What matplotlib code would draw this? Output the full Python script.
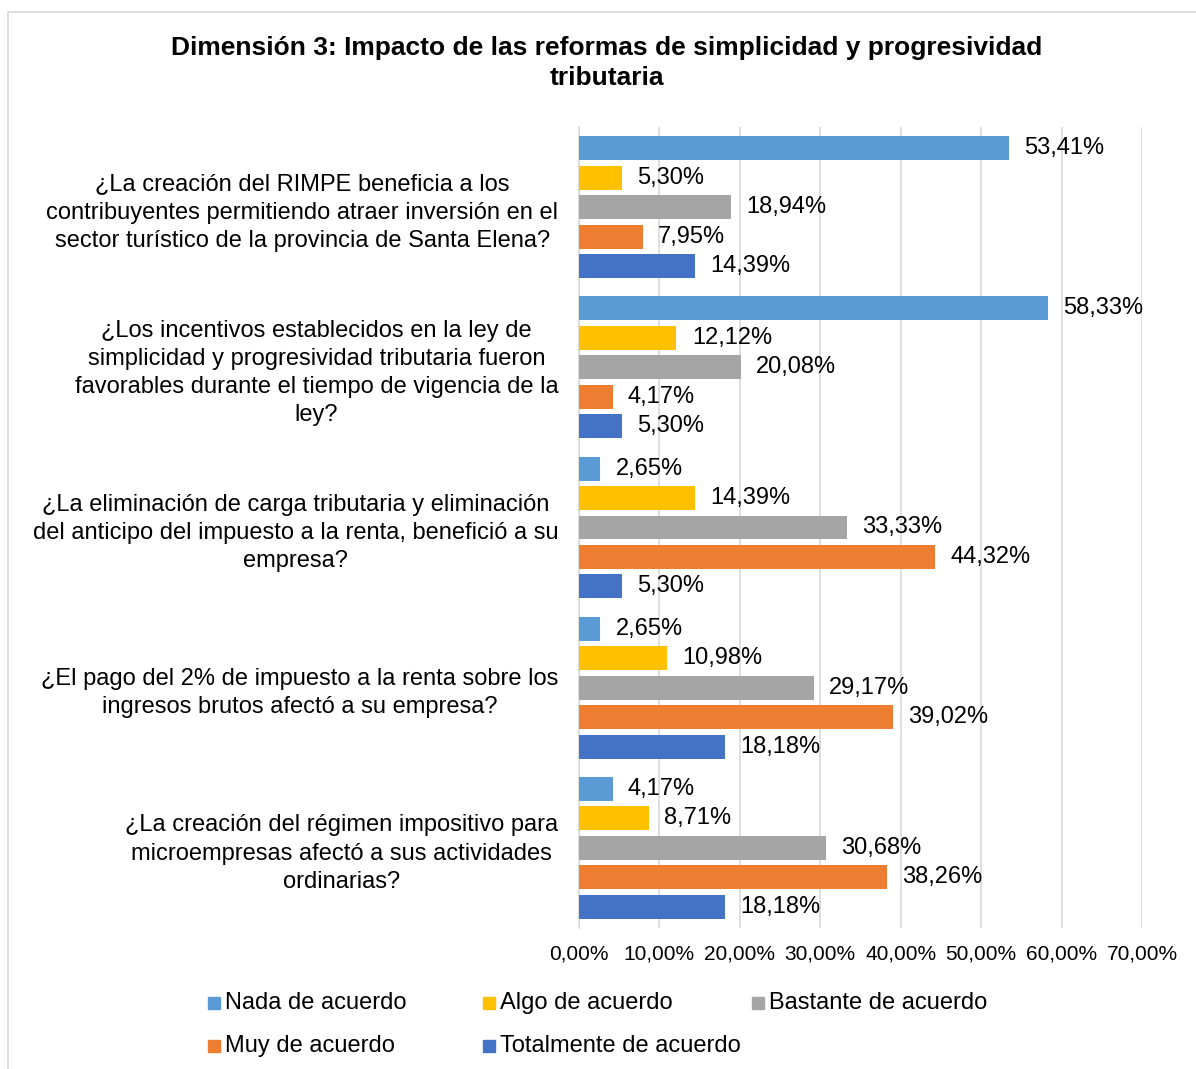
import matplotlib.pyplot as plt
from matplotlib.patches import Rectangle
import numpy as np

plt.rcParams['font.family'] = ['Liberation Sans', 'DejaVu Sans']

# preguntas (eje vertical)
preguntas = [
    '¿La creación del RIMPE beneficia a los\ncontribuyentes permitiendo atraer inversión en el\nsector turístico de la provincia de Santa Elena?',
    '¿Los incentivos establecidos en la ley de\nsimplicidad y progresividad tributaria fueron\nfavorables durante el tiempo de vigencia de la\nley?',
    '¿La eliminación de carga tributaria y eliminación\ndel anticipo del impuesto a la renta, benefició a su\nempresa?',
    '¿El pago del 2% de impuesto a la renta sobre los\ningresos brutos afectó a su empresa?',
    '¿La creación del régimen impositivo para\nmicroempresas afectó a sus actividades\nordinarias?',
]

series = ['Nada de acuerdo', 'Algo de acuerdo', 'Bastante de acuerdo',
          'Muy de acuerdo', 'Totalmente de acuerdo']
colores = ['#5B9BD5', '#FFC000', '#A5A5A5', '#ED7D31', '#4472C4']

nada = [53.41, 58.33, 2.65, 2.65, 4.17]
algo = [5.30, 12.12, 14.39, 10.98, 8.71]
bastante = [18.94, 20.08, 33.33, 29.17, 30.68]
muy = [7.95, 4.17, 44.32, 39.02, 38.26]
totalmente = [14.39, 5.30, 5.30, 18.18, 18.18]
valores = [nada, algo, bastante, muy, totalmente]

ticks = [0, 10, 20, 30, 40, 50, 60, 70]

fig = plt.figure(figsize=(11.96, 10.69), dpi=100)
ax = fig.add_axes([579/1196, 1 - 928/1069, 563/1196, 801/1069])

y = np.arange(len(preguntas))
paso = 29.5 / 160.5
alto = 24 / 160.5
for j, (nombre, vals, col) in enumerate(zip(series, valores, colores)):
    pos = y + (j - 2) * paso
    ax.barh(pos, vals, height=alto, color=col, label=nombre, zorder=3)
    for p, v in zip(pos, vals):
        ax.annotate(f'{v:.2f}%'.replace('.', ','), (v, p), xytext=(11, 0),
                    textcoords='offset points', va='center', ha='left',
                    fontsize=17, color='#000000')

ax.set_ylim(4.5, -0.5)
ax.set_xlim(0, 70)
ax.set_xticks(ticks)
ax.set_xticklabels([f'{t:.2f}%'.replace('.', ',') for t in ticks], fontsize=15)
ax.set_yticks(y)
ax.set_yticklabels(preguntas, fontsize=17, multialignment='center', linespacing=1.37)
ax.tick_params(axis='both', length=0)
ax.tick_params(axis='y', pad=15)
ax.tick_params(axis='x', pad=12)
ax.grid(axis='x', color='#D9D9D9', linewidth=1.2, zorder=0)
for s in ['top', 'right', 'bottom']:
    ax.spines[s].set_visible(False)
ax.spines['left'].set_color('#D9D9D9')
ax.spines['left'].set_linewidth(1.2)

fig.text(607/1196, 1 - 63/1069,
         'Dimensión 3: Impacto de las reformas de simplicidad y progresividad\ntributaria',
         ha='center', va='center', fontsize=19, fontweight='bold', linespacing=1.32)

# leyenda
ley_x = [208, 483, 752, 208, 483]
ley_y = [1003, 1003, 1003, 1046, 1046]
for nombre, col, lx, ly in zip(series, colores, ley_x, ley_y):
    fig.add_artist(Rectangle((lx / 1196, 1 - (ly + 6) / 1069), 12 / 1196, 12 / 1069,
                             transform=fig.transFigure, color=col))
    fig.text((lx + 17) / 1196, 1 - ly / 1069, nombre, ha='left', va='center', fontsize=17)

# borde del gráfico
fig.add_artist(Rectangle((8 / 1196, -0.01), 1.0, 1 - 12 / 1069 + 0.01, transform=fig.transFigure,
                         fill=False, edgecolor='#D9D9D9', linewidth=1.2))

fig.savefig('out.png', dpi=100)
